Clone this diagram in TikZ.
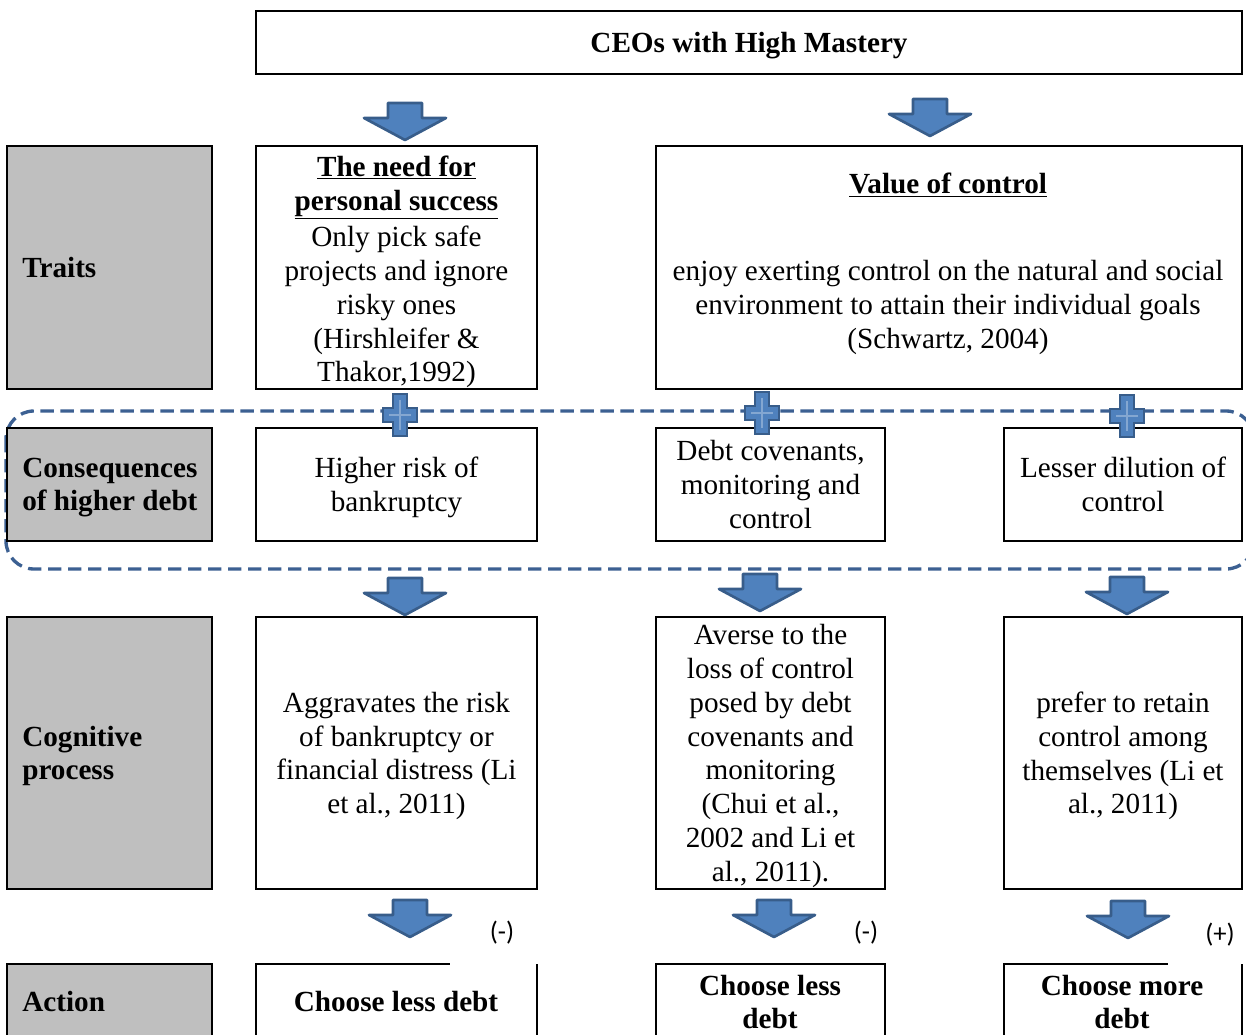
\documentclass[tikz,border=0pt]{standalone}
\usepackage{fontspec}
\setmainfont{Liberation Serif}
\newfontfamily\signfont{Carlito}
\definecolor{arrowfill}{RGB}{79,129,189}
\definecolor{arrowline}{RGB}{56,93,138}
\definecolor{dashline}{RGB}{60,96,146}
\definecolor{labelgrey}{RGB}{191,191,191}
\tikzset{
  downarrow/.pic={
    \draw[line width=2pt, draw=arrowline, fill=arrowfill, line join=round]
      (-17,-37) -- (17,-37) -- (17,-22) -- (41,-22) -- (0,0) -- (-41,-22) -- (-17,-22) -- cycle;
  },
  plusmark/.pic={
    \draw[line width=2pt, draw=arrowline, fill=arrowfill]
      (-7,-21) -- (7,-21) -- (7,-7) -- (17,-7) -- (17,7) -- (7,7) -- (7,21)
      -- (-7,21) -- (-7,7) -- (-17,7) -- (-17,-7) -- (-7,-7) -- cycle;
    \draw[line width=1pt, draw=arrowfill!70!white] (0,-15) -- (0,15) (-11,0) -- (11,0);
  }
}
\begin{document}
\begin{tikzpicture}[x=0.75pt,y=-0.75pt,
  every node/.style={font=\fontsize{21.9}{25.3}\selectfont},
  sz/.style 2 args={minimum width=#1*0.75pt, minimum height=#2*0.75pt},
  box/.style={draw=black, line width=1.5pt, inner sep=0pt},
  sidebox/.style={box, fill=labelgrey},
  celltext/.style={align=center, inner sep=0pt},
  low/.style={yshift=-2.25pt},
  sidetext/.style={anchor=west, align=left, inner sep=0pt,
    font=\fontsize{21.9}{25.3}\selectfont\bfseries},
  boldtext/.style={align=center, inner sep=0pt,
    font=\fontsize{21.9}{25.3}\selectfont\bfseries},
  sign/.style={inner sep=0pt, font=\fontsize{20}{24}\selectfont\signfont},
  boxline/.style={draw=black, line width=1.5pt}
]
\useasboundingbox (0,0) rectangle (1246,1035);
\clip (0,0) rectangle (1246,1035);

% grouping frame around the consequences row
\draw[dashline, line width=2.5pt, dash pattern=on 10pt off 5pt, rounded corners=21pt]
  (6,411) rectangle (1254,569);

% header
\node[box, sz={986}{63}] (ceo) at (749,42.5) {};
\node[boldtext, low] (ceotext) at (ceo.center) {CEOs with High Mastery};

% row labels
\node[sidebox, sz={205}{243}] (trbox) at (109.5,267.5) {};
\node[sidebox, sz={205}{113}] (csbox) at (109.5,484.5) {};
\node[sidebox, sz={205}{272}] (cgbox) at (109.5,753) {};
\filldraw[fill=labelgrey, boxline] (7,1080) -- (7,964) -- (212,964) -- (212,1080);
\node[sidetext] (trlabel) at (22,268) {Traits};
\node[sidetext, low] (cslabel) at (22,484.5) {Consequences\\of higher debt};
\node[sidetext, low] (cglabel) at (22,753) {Cognitive\\process};
\node[sidetext] (aclabel) at (22,1001.5) {Action};

% traits
\node[box, sz={281}{243}] (t1) at (396.5,267.5) {};
\node[celltext, yshift=-3.4pt] (t1text) at (t1.center)
  {\textbf{\underline{The need for}}\\\textbf{\underline{personal success}}\\[2.2pt]Only pick safe\\projects and ignore\\risky ones\\(Hirshleifer \&\\Thakor,1992)};
\node[box, sz={586}{243}] (t2) at (949,267.5) {};
\node[celltext] (t2text) at (948,264)
  {\textbf{\underline{Value of control}}\\[40pt]enjoy exerting control on the natural and social\\environment to attain their individual goals\\(Schwartz, 2004)};

% consequences of higher debt
\node[box, sz={281}{113}] (c1) at (396.5,484.5) {};
\node[box, sz={229}{113}] (c2) at (770.5,484.5) {};
\node[box, sz={238}{113}] (c3) at (1123,484.5) {};
\node[celltext, low] (c1text) at (c1.center) {Higher risk of\\bankruptcy};
\node[celltext] (c2text) at (c2.center) {Debt covenants,\\monitoring and\\control};
\node[celltext] (c3text) at (c3.center) {Lesser dilution of\\control};

% cognitive process
\node[box, sz={281}{272}] (g1) at (396.5,753) {};
\node[box, sz={229}{272}] (g2) at (770.5,753) {};
\node[box, sz={238}{272}] (g3) at (1123,753) {};
\node[celltext, low] (g1text) at (g1.center)
  {Aggravates the risk\\of bankruptcy or\\financial distress (Li\\et al., 2011)};
\node[celltext, low] (g2text) at (g2.center)
  {Averse to the\\loss of control\\posed by debt\\covenants and\\monitoring\\(Chui et al.,\\2002 and Li et\\al., 2011).};
\node[celltext, low] (g3text) at (g3.center)
  {prefer to retain\\control among\\themselves (Li et\\al., 2011)};

% actions
\draw[boxline] (256,1080) -- (256,964) -- (450,964) (537,964) -- (537,1080);
\draw[boxline] (656,964) rectangle (885,1080);
\draw[boxline] (1004,1080) -- (1004,964) -- (1168,964) (1242,964) -- (1242,1080);
\node[boldtext] (a1) at (396,1001.5) {Choose less debt};
\node[boldtext] (a2) at (770,1002) {Choose less\\debt};
\node[boldtext] (a3) at (1122,1002) {Choose more\\debt};

% direction of effect on debt
\node[sign] (s1) at (502,933) {(-)};
\node[sign] (s2) at (866,933) {(-)};
\node[sign] (s3) at (1220,935) {(+)};

% block arrows between the rows
\pic at (405,140) {downarrow};
\pic at (930,136) {downarrow};
\pic at (405,615) {downarrow};
\pic at (760,611) {downarrow};
\pic at (1127,614) {downarrow};
\pic at (410,937) {downarrow};
\pic at (774,937) {downarrow};
\pic at (1128,938) {downarrow};

% plus marks linking traits to consequences
\pic at (400,415) {plusmark};
\pic at (762,413) {plusmark};
\pic at (1127,416) {plusmark};
\end{tikzpicture}
\end{document}
